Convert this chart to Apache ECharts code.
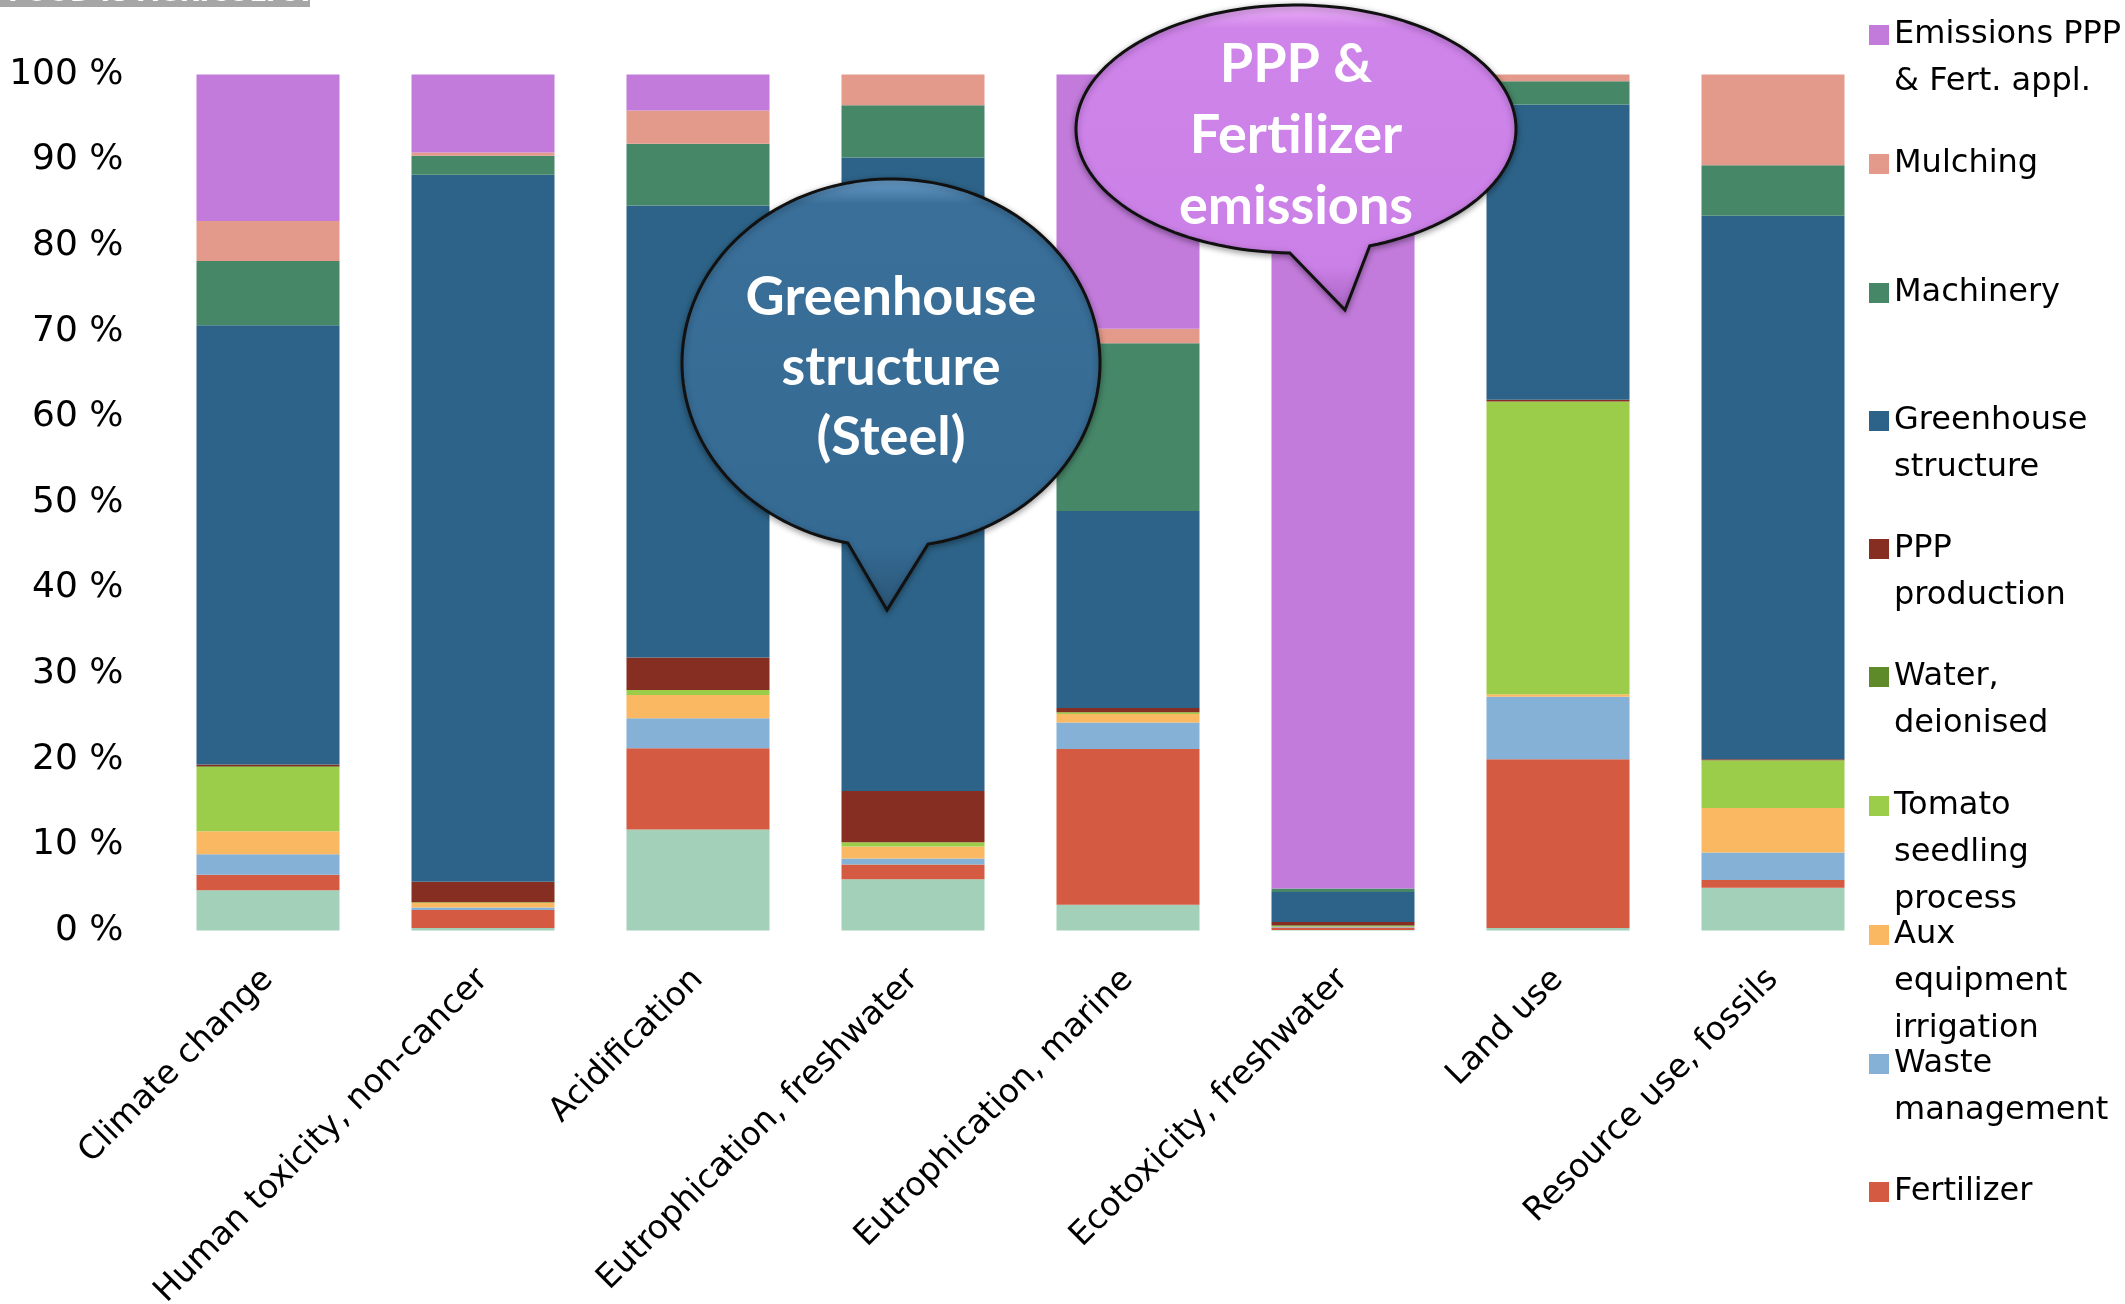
<!DOCTYPE html>
<html>
<head>
<meta charset="utf-8">
<script src="https://cdn.jsdelivr.net/npm/echarts@6/dist/echarts.min.js"></script>
<style>
html,body{margin:0;padding:0;background:#fff;}
#chart{width:2125px;height:1304px;}
</style>
</head>
<body>
<div id="chart"></div>
<script>
// ---- Data (percent share of each impact category) ----
const categories = ["Climate change", "Human toxicity, non-cancer", "Acidification", "Eutrophication, freshwater", "Eutrophication, marine", "Ecotoxicity, freshwater", "Land use", "Resource use, fossils"];
const otherVals      = [4.7, 0.3, 11.8, 6.0, 3.0, 0.05, 0.3, 5.0];
const fertilizer     = [1.8, 2.1, 9.5, 1.7, 18.2, 0.3, 19.7, 0.9];
const wasteMgmt      = [2.4, 0.3, 3.5, 0.7, 3.1, 0.05, 7.3, 3.2];
const auxEquip       = [2.7, 0.5, 2.7, 1.4, 1.0, 0.05, 0.3, 5.2];
const tomatoSeedling = [7.5, 0.1, 0.6, 0.5, 0.2, 0.05, 34.2, 5.6];
const waterDeion     = [0.1, 0, 0, 0, 0, 0.1, 0, 0];
const pppProduction  = [0.2, 2.4, 3.8, 6.0, 0.5, 0.4, 0.2, 0.1];
const greenhouse     = [51.3, 82.6, 52.8, 74.0, 23.0, 3.5, 34.5, 63.5];
const machinery      = [7.5, 2.2, 7.2, 6.1, 19.6, 0.4, 2.7, 5.9];
const mulching       = [4.7, 0.4, 3.9, 3.6, 1.7, 0, 0.8, 10.6];
const emissions      = [17.1, 9.1, 4.2, 0, 29.7, 95.1, 0, 0];
const yTickValues    = [0, 10, 20, 30, 40, 50, 60, 70, 80, 90, 100];

const seriesDefs = [
  {name: "Other", data: otherVals, color: "#A2D0B9"},
  {name: "Fertilizer", data: fertilizer, color: "#D45A41"},
  {name: "Waste management", data: wasteMgmt, color: "#84B1D5"},
  {name: "Aux equipment irrigation", data: auxEquip, color: "#FAB862"},
  {name: "Tomato seedling process", data: tomatoSeedling, color: "#9BCD4B"},
  {name: "Water, deionised", data: waterDeion, color: "#5E8A2A"},
  {name: "PPP production", data: pppProduction, color: "#862E21"},
  {name: "Greenhouse structure", data: greenhouse, color: "#2D6388"},
  {name: "Machinery", data: machinery, color: "#468768"},
  {name: "Mulching", data: mulching, color: "#E39A8A"},
  {name: "Emissions PPP & Fert. appl.", data: emissions, color: "#C27BDB"}
];

const legendItems = [
  {name: "Emissions PPP & Fert. appl.", text: "Emissions PPP\n& Fert. appl.", c: 35},
  {name: "Mulching", text: "Mulching", c: 164},
  {name: "Machinery", text: "Machinery", c: 293},
  {name: "Greenhouse structure", text: "Greenhouse\nstructure", c: 421},
  {name: "PPP production", text: "PPP\nproduction", c: 549},
  {name: "Water, deionised", text: "Water,\ndeionised", c: 677},
  {name: "Tomato seedling process", text: "Tomato\nseedling\nprocess", c: 806},
  {name: "Aux equipment irrigation", text: "Aux\nequipment\nirrigation", c: 935},
  {name: "Waste management", text: "Waste\nmanagement", c: 1064},
  {name: "Fertilizer", text: "Fertilizer", c: 1192}
];

const LH = 47;
const legends = legendItems.map(it => {
  const n = it.text.split("\n").length;
  // prepend blank lines so the first text line sits level with the symbol
  const shown = "\n".repeat(n - 1) + it.text;
  return {
    show: true,
    orient: "vertical",
    left: 1869,
    top: it.c - (2 * n - 1) * LH / 2,
    padding: 0,
    itemWidth: 20,
    itemHeight: 20,
    icon: "rect",
    selectedMode: false,
    data: [it.name],
    formatter: () => shown,
    textStyle: {
      fontFamily: "DejaVu Sans",
      fontSize: 32,
      color: "#000",
      lineHeight: LH
    }
  };
});

function bubble(cx, cy, rx, ry, aLeft, aRight, tip) {
  const pts = [];
  const N = 160;
  const a0 = aLeft * Math.PI / 180, a1 = (360 + aRight) * Math.PI / 180;
  for (let i = 0; i <= N; i++) {
    const t = a0 + (a1 - a0) * i / N;
    pts.push([cx + rx * Math.cos(t), cy + ry * Math.sin(t)]);
  }
  pts.push(tip);
  return pts;
}

const blueBubble = bubble(891, 363, 209, 184, 101.9, 79.8, [887, 610]);
const purpleBubble = bubble(1296, 129, 220, 124, 91.6, 70.4, [1345, 310]);

const chart = echarts.init(document.getElementById("chart"), null, {renderer: "canvas"});
chart.setOption({
  backgroundColor: "#ffffff",
  animation: false,
  grid: {left: 160.5, right: 244.5, top: 74.5, bottom: 373.5, containLabel: false, outerBoundsMode: "none"},
  legend: legends,
  xAxis: {
    type: "category",
    data: categories,
    axisLine: {show: false},
    axisTick: {show: false},
    axisLabel: {
      rotate: 45,
      interval: 0,
      margin: 44,
      fontFamily: "DejaVu Sans",
      fontSize: 33,
      color: "#000"
    }
  },
  yAxis: {
    type: "value",
    min: yTickValues[0],
    max: yTickValues[yTickValues.length - 1],
    interval: 10,
    axisLine: {show: false},
    axisTick: {show: false},
    splitLine: {show: false},
    axisLabel: {
      margin: 37,
      fontFamily: "DejaVu Sans",
      fontSize: 36,
      color: "#000",
      formatter: v => v + " %"
    }
  },
  series: seriesDefs.map(s => ({
    name: s.name,
    type: "bar",
    stack: "total",
    barWidth: 143,
    data: s.data,
    itemStyle: {color: s.color},
    emphasis: {disabled: true}
  })),
  graphic: [
    {
      type: "rect", left: 0, top: 0, z: 100,
      shape: {x: 0, y: 0, width: 310, height: 7},
      style: {fill: "#A6A6A6"}
    },
    {
      type: "text", z: 101, x: 8, y: 7,
      style: {text: "FOOD IS AGRICULTURE", fill: "#ffffff", font: "bold 26px 'DejaVu Sans'", textVerticalAlign: "bottom", verticalAlign: "bottom"}
    },
    {
      type: "polygon", z: 100,
      shape: {points: blueBubble},
      style: {
        fill: new echarts.graphic.LinearGradient(0, 0, 0, 1, [
          {offset: 0, color: "#6FA3D0"},
          {offset: 0.06, color: "#3A6F99"},
          {offset: 0.85, color: "#356A93"},
          {offset: 1, color: "#2A5576"}
        ]),
        stroke: "#111111",
        lineWidth: 3,
        shadowBlur: 6,
        shadowColor: "rgba(0,0,0,0.35)",
        shadowOffsetY: 2
      }
    },
    {
      type: "text", z: 101, x: 891, y: 368,
      style: {
        text: "Greenhouse\nstructure\n(Steel)",
        fill: "#ffffff",
        font: "bold 54px Lato",
        lineHeight: 70,
        align: "center",
        verticalAlign: "middle",
        textAlign: "center",
        textVerticalAlign: "middle"
      }
    },
    {
      type: "polygon", z: 100,
      shape: {points: purpleBubble},
      style: {
        fill: new echarts.graphic.LinearGradient(0, 0, 0, 1, [
          {offset: 0, color: "#F0B5FA"},
          {offset: 0.08, color: "#CF84EA"},
          {offset: 0.85, color: "#CB80E7"},
          {offset: 1, color: "#A965C2"}
        ]),
        stroke: "#111111",
        lineWidth: 3,
        shadowBlur: 6,
        shadowColor: "rgba(0,0,0,0.35)",
        shadowOffsetY: 2
      }
    },
    {
      type: "text", z: 101, x: 1296, y: 136,
      style: {
        text: "PPP &\nFertilizer\nemissions",
        fill: "#ffffff",
        font: "bold 54px Lato",
        lineHeight: 71,
        align: "center",
        verticalAlign: "middle",
        textAlign: "center",
        textVerticalAlign: "middle"
      }
    }
  ]
});
</script>
</body>
</html>
